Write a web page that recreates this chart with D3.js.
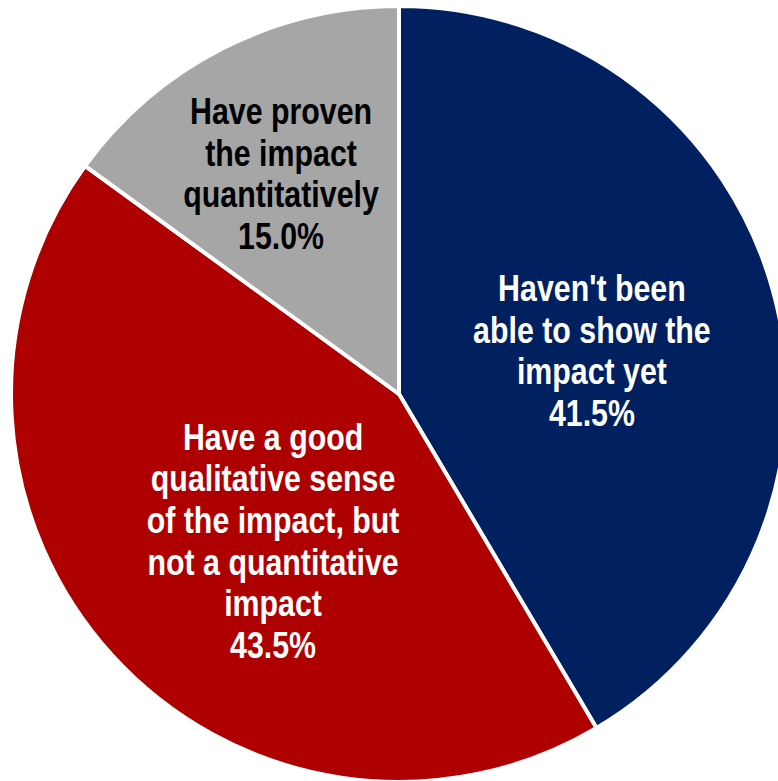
<!DOCTYPE html>
<html>
<head>
<meta charset="utf-8">
<script src="https://cdn.jsdelivr.net/npm/d3@7"></script>
<style>
  html, body { margin: 0; padding: 0; background: #ffffff; }
  svg { display: block; }
  .lbl { font-family: "Liberation Sans Narrow", "Arial Narrow", "Liberation Sans", Arial, sans-serif; font-weight: bold; }
</style>
</head>
<body>
<svg id="chart" width="778" height="781"></svg>
<script>
// Survey answers, clockwise from 12 o'clock
const categories = [
  ["Haven't been", "able to show the", "impact yet"],
  ["Have a good", "qualitative sense", "of the impact, but", "not a quantitative", "impact"],
  ["Have proven", "the impact", "quantitatively"]
];
const shares = [41.5, 43.5, 15.0];
const sliceColors = ["#002060", "#AE0000", "#A6A6A6"];
const labelColors = ["#ffffff", "#ffffff", "#000000"];

// Layout
const W = 778, H = 781;
const cx = 399, cy = 394, R = 388;
const fontSize = 37, lineH = 41.7, narrow = 0.82;
// label block centres, as (radius, extra dx, extra dy) around each slice centroid
const labelPlacement = [
  { r: 200, dx: 0, dy: 9 },
  { r: 200, dx: 22, dy: 12 },
  { r: 240, dx: -9, dy: -7 }
];

const svg = d3.select("#chart");
const g = svg.append("g").attr("transform", `translate(${cx},${cy})`);

const data = shares.map((v, i) => ({ lines: categories[i], value: v, i }));
const pie = d3.pie().value(d => d.value).sort(null);
const arcs = pie(data);
const arc = d3.arc().innerRadius(0).outerRadius(R);

g.selectAll("path.slice")
  .data(arcs)
  .join("path")
  .attr("class", "slice")
  .attr("d", arc)
  .attr("fill", d => sliceColors[d.data.i])
  .attr("stroke", "#ffffff")
  .attr("stroke-width", 4)
  .attr("stroke-linejoin", "miter");

const fmt = d3.format(".1f");

arcs.forEach(a => {
  const p = labelPlacement[a.data.i];
  const c = d3.arc().innerRadius(p.r).outerRadius(p.r).centroid(a);
  const lines = a.data.lines.concat([fmt(a.data.value) + "%"]);
  const x = c[0] + p.dx, y = c[1] + p.dy;
  const top = -(lines.length - 1) * lineH / 2;
  // condensed bold face: horizontally narrowed block of centred lines
  const t = g.append("g")
    .attr("transform", `translate(${x},${y}) scale(${narrow},1)`)
    .append("text")
    .attr("class", "lbl")
    .attr("text-anchor", "middle")
    .attr("font-size", fontSize)
    .attr("fill", labelColors[a.data.i]);
  lines.forEach((ln, k) => {
    t.append("tspan")
      .attr("x", 0)
      .attr("y", top + k * lineH)
      .attr("dy", "0.36em")
      .text(ln);
  });
});
</script>
</body>
</html>
